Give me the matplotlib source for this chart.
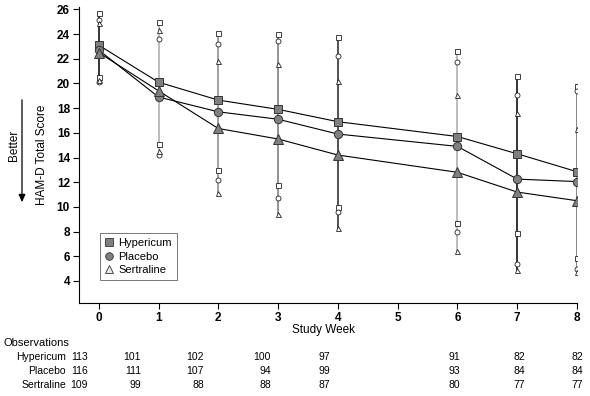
import matplotlib.pyplot as plt
from matplotlib.lines import Line2D
from matplotlib.patches import FancyArrowPatch

plt.rcParams['font.family'] = ['Liberation Sans', 'DejaVu Sans']

################ data ################
weeks = [0, 1, 2, 3, 4, 6, 7, 8]
groups = ['Hypericum', 'Placebo', 'Sertraline']

# mean HAM-D score
hyp_mean = [23.1, 20.1, 18.65, 17.9, 16.9, 15.7, 14.3, 12.85]
pla_mean = [22.7, 18.9, 17.7, 17.1, 15.9, 14.9, 12.25, 12.05]
ser_mean = [22.5, 19.4, 16.35, 15.5, 14.2, 12.8, 11.2, 10.5]

# upper / lower bounds (open markers)
hyp_hi = [25.7, 25.0, 24.1, 24.0, 23.8, 22.6, 20.6, 19.8]
pla_hi = [25.1, 23.6, 23.2, 23.4, 22.2, 21.7, 19.1, 19.4]
ser_hi = [24.9, 24.3, 21.8, 21.6, 20.2, 19.1, 17.6, 16.3]
hyp_lo = [20.5, 15.1, 13.0, 11.8, 10.0, 8.7, 7.9, 5.9]
pla_lo = [20.1, 14.2, 12.2, 10.7, 9.6, 8.0, 5.4, 4.95]
ser_lo = [20.3, 14.5, 11.1, 9.4, 8.3, 6.4, 4.9, 4.75]

# observations per week
hyp_n = [113, 101, 102, 100, 97, 91, 82, 82]
pla_n = [116, 111, 107, 94, 99, 93, 84, 84]
ser_n = [109, 99, 88, 88, 87, 80, 77, 77]

################ styles ################
markers = ['s', 'o', '^']
bar_colors = ['#111111', '#b0b0b0', '#909090', '#808080', '#333333',
              '#b0b0b0', '#111111', '#707070']
fill = '#808080'

fig = plt.figure(figsize=(5.9, 3.96), dpi=100)
ax = fig.add_axes([79/590, (396-302.7)/396, (577-79)/590, (302.7-7)/396])

means = [hyp_mean, pla_mean, ser_mean]
his = [hyp_hi, pla_hi, ser_hi]
los = [hyp_lo, pla_lo, ser_lo]

# vertical range lines for each week
for i, w in enumerate(weeks):
    top = max(h[i] for h in his)
    bot = min(l[i] for l in los)
    ax.plot([w, w], [bot, top], color=bar_colors[i], lw=1.2, zorder=1)

# open bound markers
for m, hi, lo in zip(markers, his, los):
    ax.plot(weeks, hi, ls='none', marker=m, ms=3.6, mfc='white',
            mec='#222222', mew=0.6, zorder=3)
    ax.plot(weeks, lo, ls='none', marker=m, ms=3.6, mfc='white',
            mec='#222222', mew=0.6, zorder=3)

# mean lines
for m, y in zip(markers, means):
    ax.plot(weeks, y, color='black', lw=0.8, marker=m, ms=6.5 if m == '^' else 6,
            mfc=fill, mec='#333333', mew=0.7, zorder=4)

ax.set_xlim(-0.33, 8)
ax.set_ylim(2.24, 26.19)
ax.set_xticks(range(0, 9))
ax.set_yticks(range(4, 27, 2))
for s in ['top', 'right']:
    ax.spines[s].set_visible(False)
ax.spines['left'].set_linewidth(0.8)
ax.spines['bottom'].set_linewidth(0.8)
ax.tick_params(direction='out', length=4, width=0.8, labelsize=8.5, pad=2.5)
for t in ax.get_xticklabels() + ax.get_yticklabels():
    t.set_fontweight('bold')

ax.set_ylabel('HAM-D Total Score', fontsize=8.5, labelpad=6)

# legend
handles = [Line2D([], [], ls='none', marker='s', ms=5.5, mfc=fill, mec='#333333', mew=0.6),
           Line2D([], [], ls='none', marker='o', ms=5.5, mfc=fill, mec='#333333', mew=0.6),
           Line2D([], [], ls='none', marker='^', ms=5.5, mfc='#e8e8e8', mec='#333333', mew=0.6)]
leg = ax.legend(handles, groups, loc='lower left', bbox_to_anchor=(0.042, 0.077),
                borderaxespad=0, fontsize=8, frameon=True, fancybox=False,
                handlelength=0.8, handletextpad=0.4, labelspacing=0.3, borderpad=0.45)
leg.get_frame().set_edgecolor('#555555')
leg.get_frame().set_linewidth(0.7)

# "Better" arrow
fig.text(14/590, 1-145/396, 'Better', rotation=90, fontsize=8.5, ha='center', va='center')
fig.patches.append(FancyArrowPatch(
    (22/590, 1-97/396), (22/590, 1-205/396), transform=fig.transFigure,
    arrowstyle='-|>,head_length=0.45,head_width=0.2', mutation_scale=10,
    color='black', lw=0.9))

# observations table
fig.text(323/590, 1-330/396, 'Study Week', fontsize=8.5, ha='center', va='center')
fig.text(3/590, 1-343/396, 'Observations', fontsize=8, ha='left', va='center')
col_right = [88, 141, 204, 271, 330, 460, 525, 583]
row_y = [357, 371, 385]
for name, ns, yy in zip(groups, [hyp_n, pla_n, ser_n], row_y):
    fig.text(66/590, 1-yy/396, name, fontsize=7.5, ha='right', va='center')
    for n, xr in zip(ns, col_right):
        fig.text(xr/590, 1-yy/396, str(n), fontsize=7.5, ha='right', va='center')

fig.savefig('out.png', dpi=100)
